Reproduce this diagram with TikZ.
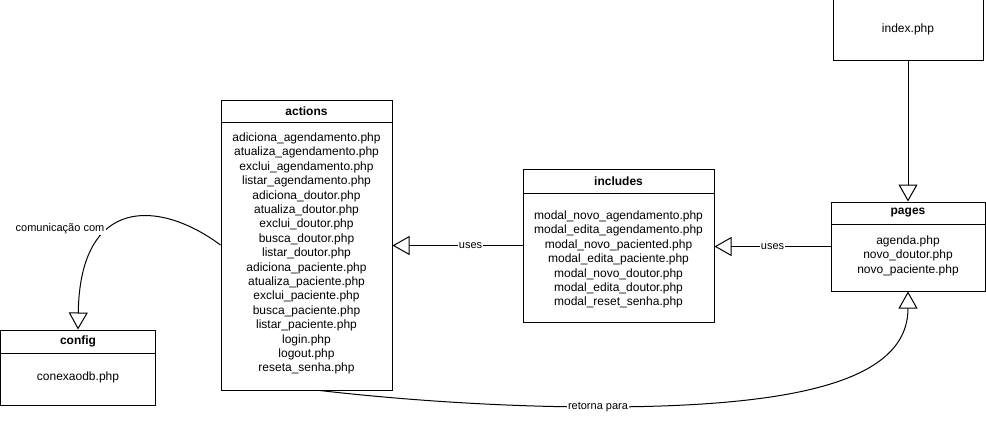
\documentclass[tikz,border=0pt]{standalone}
\usepackage{fontspec}
\setmainfont{Liberation Sans}
\usetikzlibrary{arrows.meta,positioning}
\begin{document}
\begin{tikzpicture}[x=0.75pt, y=-0.75pt, line width=0.75pt,
  box/.style={draw, rectangle, inner sep=0pt},
  title/.style={font=\fontsize{9}{10.8}\selectfont\bfseries, inner sep=0pt, minimum height=16.5pt},
  files/.style={font=\fontsize{9}{10.8}\selectfont, align=center, inner sep=0pt},
  lbl/.style={font=\fontsize{8.25}{9.9}\selectfont, fill=white, inner sep=1pt},
  uses/.style={-{Triangle[open, length=12.75pt, width=14.25pt]}}]

\useasboundingbox (0,0) rectangle (986,422);

% Boxes
\node[box, minimum width=112.5pt, minimum height=46.5pt, font=\fontsize{9}{10.8}\selectfont] (index) at (908,29) {index.php};
\node[box, minimum width=115.5pt, minimum height=66.75pt] (pages) at (908,246.5) {};
\node[box, minimum width=143.25pt, minimum height=114.75pt] (includes) at (618.5,245.5) {};
\node[box, minimum width=128.25pt, minimum height=217.5pt] (actions) at (306.5,245) {};
\node[box, minimum width=116.25pt, minimum height=56.25pt] (config) at (78,367.5) {};

% Headers
\node[title, anchor=north] (pagestitle) at (pages.north) {pages};
\node[title, anchor=north, minimum height=18pt] (includestitle) at (includes.north) {includes};
\node[title, anchor=north] (actionstitle) at (actions.north) {actions};
\node[title, anchor=north, minimum height=17.25pt] (configtitle) at (config.north) {config};
\foreach \b in {pages,includes,actions,config}
  \draw (\b.west |- \b title.south) -- (\b.east |- \b title.south);

% File lists
\node[files] (pagesfiles) at (908,255.5) {agenda.php\\novo\_doutor.php\\novo\_paciente.php};
\node[files] (includesfiles) at (618.5,259.5) {modal\_novo\_agendamento.php\\modal\_edita\_agendamento.php\\
  modal\_novo\_paciented.php\\modal\_edita\_paciente.php\\modal\_novo\_doutor.php\\
  modal\_edita\_doutor.php\\modal\_reset\_senha.php};
\node[files] (actionsfiles) at (306.5,253.5) {adiciona\_agendamento.php\\atualiza\_agendamento.php\\
  exclui\_agendamento.php\\listar\_agendamento.php\\adiciona\_doutor.php\\atualiza\_doutor.php\\
  exclui\_doutor.php\\busca\_doutor.php\\listar\_doutor.php\\adiciona\_paciente.php\\
  atualiza\_paciente.php\\exclui\_paciente.php\\busca\_paciente.php\\listar\_paciente.php\\
  login.php\\logout.php\\reseta\_senha.php};
\node[files] (configfiles) at (78,377) {conexaodb.php};

% Connectors
\draw[uses] (index.south) -- (pages.north);
\draw[uses] (pages.west) -- (pages.west -| includes.east)
  node[lbl, pos=0.5] (usesone) {uses};
\draw[uses] (includes.west) -- (includes.west -| actions.east)
  node[lbl, pos=0.4] (usestwo) {uses};
\draw[uses] (actions.west) .. controls (160,200) and (80,195) .. (config.north);
\node[lbl] (comlabel) at (60,229) {comunicação com};
\draw[uses] ([xshift=10pt]actions.south) .. controls (420,402) and (520,407) .. (598,407)
  node[lbl] (retlabel) {retorna para}
  .. controls (800,407) and (908,380) .. (pages.south);

\end{tikzpicture}
\end{document}
